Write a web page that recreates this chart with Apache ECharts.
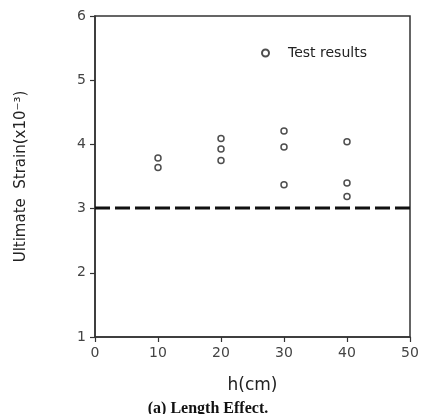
<!DOCTYPE html>
<html><head><meta charset="utf-8">
<script src="https://cdn.jsdelivr.net/npm/echarts@6/dist/echarts.min.js"></script>
<style>html,body{margin:0;padding:0;background:#fff}#c{width:423px;height:414px}</style>
</head><body><div id="c"></div>
<script>
// data
const hValues = [10, 10, 20, 20, 20, 30, 30, 30, 40, 40, 40];
const strainValues = [3.79, 3.64, 4.09, 3.93, 3.75, 4.21, 3.96, 3.37, 4.04, 3.40, 3.19];
const referenceX = [0, 50];
const referenceStrain = [3.01, 3.01];
const xTicks = [0, 10, 20, 30, 40, 50];
const yTicks = [1, 2, 3, 4, 5, 6];

const font = '"DejaVu Sans", sans-serif';
const chart = echarts.init(document.getElementById('c'), null, {renderer: 'canvas'});
chart.setOption({
  animation: false,
  backgroundColor: '#fff',
  grid: {left: 95, right: 13, top: 16, bottom: 77, show: true, borderColor: '#333', borderWidth: 1.5},
  legend: {
    left: 256, top: 41, itemWidth: 7, itemHeight: 7, itemGap: 4,
    textStyle: {fontFamily: font, fontSize: 14, color: '#222', padding: [0,0,0,14], letterSpacing: 1},
    data: [{name: 'Test results', icon: 'circle'}]
  },
  xAxis: {
    type: 'value', min: 0, max: 50, interval: 10,
    name: 'h(cm)', nameLocation: 'middle', nameGap: 40,
    nameTextStyle: {fontFamily: font, fontSize: 17, color: '#222'},
    axisLine: {show: true, onZero: false, lineStyle: {color: '#333', width: 1.5}},
    axisTick: {show: true, length: 5, lineStyle: {color: '#333', width: 1.2}},
    axisLabel: {fontFamily: font, fontSize: 14, color: '#444', margin: 9,
      formatter: v => xTicks.includes(v) ? String(v) : ''},
    splitLine: {show: false}
  },
  yAxis: {
    type: 'value', min: 1, max: 6, interval: 1,
    name: 'Ultimate  Strain(x10⁻³)', nameLocation: 'middle', nameGap: 66,
    nameTextStyle: {fontFamily: font, fontSize: 15, color: '#222', letterSpacing: 1},
    axisLine: {show: true, onZero: false, lineStyle: {color: '#333', width: 1.5}},
    axisTick: {show: true, length: 5, lineStyle: {color: '#333', width: 1.2}},
    axisLabel: {fontFamily: font, fontSize: 14, color: '#444', margin: 9,
      formatter: v => yTicks.includes(v) ? String(v) : ''},
    splitLine: {show: false}
  },
  series: [
    {
      name: 'Test results', type: 'scatter', symbol: 'circle', symbolSize: 6,
      itemStyle: {color: '#fff', borderColor: '#222', borderWidth: 1.5},
      data: hValues.map((h, i) => [h, strainValues[i]])
    },
    {
      name: 'ref', type: 'line', symbol: 'none', silent: true,
      lineStyle: {color: '#111', width: 3, type: [15, 5]},
      data: referenceX.map((x, i) => [x, referenceStrain[i]])
    }
  ],
  graphic: [{
    type: 'text', x: 208, y: 409,
    style: {text: '(a) Length Effect.', font: 'bold 16px "Liberation Serif", serif', fill: '#111',
      align: 'center', verticalAlign: 'middle'}
  }]
});
</script></body></html>
